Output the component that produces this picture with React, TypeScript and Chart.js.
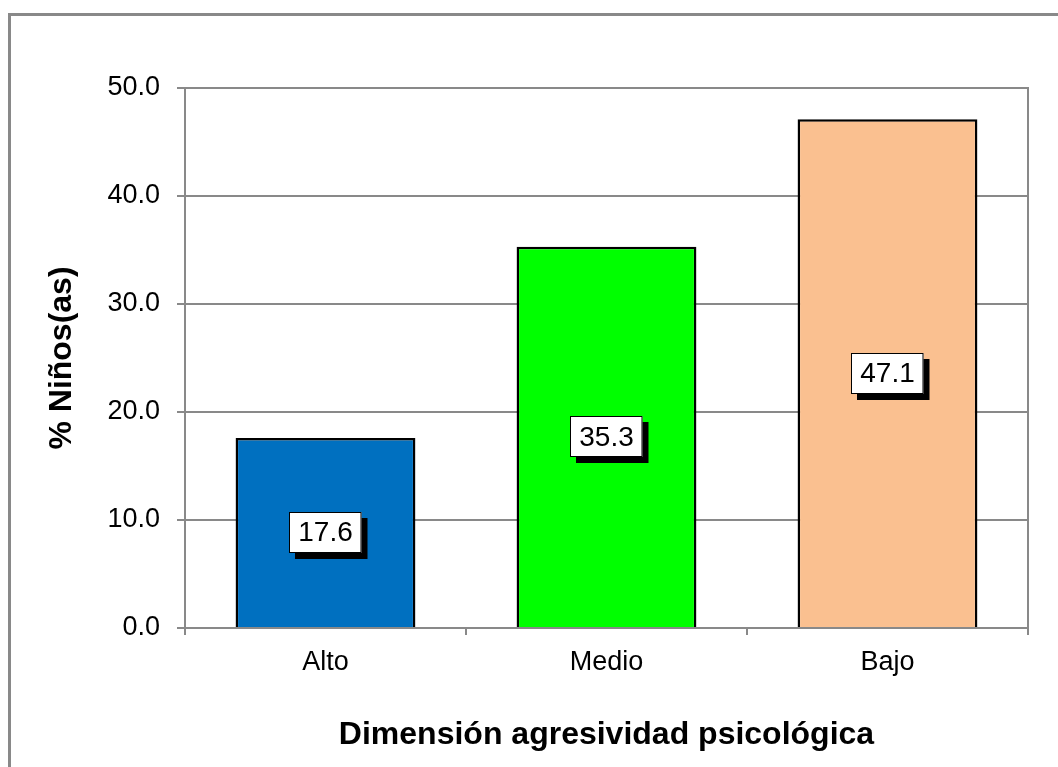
import React, { useEffect, useRef } from "react";
import { Chart, registerables } from "chart.js";

Chart.register(...registerables);

const categories = ["Alto", "Medio", "Bajo"];
const values = [17.6, 35.3, 47.1];
const barColors = ["#0070C0", "#00FF00", "#FAC090"];
const yTitle = "% Niños(as)";
const xTitle = "Dimensión agresividad psicológica";

const FONT = "'Liberation Sans', Arial, sans-serif";
const GRAY = "#898989";

const framePlugin = {
  id: "framePlugin",
  beforeDraw(chart: any) {
    const ctx = chart.ctx;
    ctx.save();
    ctx.fillStyle = "#ffffff";
    ctx.fillRect(0, 0, chart.width, chart.height);
    ctx.fillStyle = GRAY;
    ctx.fillRect(8, 13, 3, chart.height - 13);
    ctx.fillRect(8, 13, chart.width - 8, 3);
    ctx.restore();
  },
  afterDraw(chart: any) {
    const { ctx, chartArea } = chart;
    ctx.save();
    ctx.strokeStyle = GRAY;
    ctx.lineWidth = 2;
    ctx.beginPath();
    ctx.moveTo(chartArea.right, chartArea.top - 1);
    ctx.lineTo(chartArea.right, chartArea.bottom + 7);
    ctx.stroke();
    ctx.restore();
  },
};

const labelPlugin = {
  id: "labelPlugin",
  afterDatasetsDraw(chart: any) {
    const ctx = chart.ctx;
    const meta = chart.getDatasetMeta(0);
    ctx.save();
    ctx.font = `28px ${FONT}`;
    ctx.textAlign = "center";
    ctx.textBaseline = "middle";
    meta.data.forEach((bar: any, i: number) => {
      const text = values[i].toFixed(1);
      const cx = bar.x;
      const cy = (bar.y + bar.base) / 2;
      const w = ctx.measureText(text).width + 18;
      const h = 41;
      const x0 = Math.round(cx - w / 2);
      const y0 = Math.round(cy - h / 2);
      ctx.fillStyle = "#000";
      ctx.fillRect(x0 + 6, y0 + 6, w, h);
      ctx.fillStyle = "#fff";
      ctx.fillRect(x0, y0, w, h);
      ctx.strokeStyle = "#000";
      ctx.lineWidth = 1;
      ctx.strokeRect(x0 + 0.5, y0 + 0.5, w - 1, h - 1);
      ctx.fillStyle = "#000";
      ctx.fillText(text, cx, cy + 1);
    });
    ctx.restore();
  },
};

export default function App() {
  const ref = useRef<HTMLCanvasElement>(null);
  useEffect(() => {
    if (!ref.current) return;
    const chart = new Chart(ref.current, {
      type: "bar",
      data: {
        labels: categories,
        datasets: [
          {
            data: values,
            backgroundColor: barColors,
            borderColor: "#000",
            borderWidth: 2.5,
            barPercentage: 0.64,
            categoryPercentage: 1,
          },
        ],
      },
      options: {
        animation: false,
        responsive: false,
        devicePixelRatio: 1,
        layout: { padding: { top: 88, right: 30, left: 0, bottom: 0 } },
        plugins: {
          legend: { display: false },
          tooltip: { enabled: false },
        },
        scales: {
          x: {
            afterFit: (s: any) => {
              s.height = 139;
            },
            grid: {
              offset: true,
              drawOnChartArea: false,
              drawTicks: true,
              tickLength: 7,
              color: GRAY,
              lineWidth: 2,
            },
            border: { display: true, color: GRAY, width: 2 },
            ticks: {
              color: "#000",
              font: { family: FONT, size: 27 },
              padding: 11,
            },
            title: {
              display: true,
              text: xTitle,
              color: "#000",
              font: { family: FONT, size: 32, weight: "bold" },
              padding: { top: 0, bottom: 13 },
            },
          },
          y: {
            min: 0,
            max: 50,
            afterFit: (s: any) => {
              s.width = 185;
            },
            grid: {
              drawOnChartArea: true,
              drawTicks: true,
              tickLength: 8,
              color: GRAY,
              lineWidth: 2,
            },
            border: { display: true, color: GRAY, width: 2 },
            ticks: {
              stepSize: 10,
              color: "#000",
              font: { family: FONT, size: 27 },
              padding: 17,
              callback: (v: any) => Number(v).toFixed(1),
            },
            title: {
              display: true,
              text: yTitle,
              color: "#000",
              font: { family: FONT, size: 32, weight: "bold" },
              padding: { top: 43, bottom: 0 },
            },
          },
        },
      },
      plugins: [framePlugin, labelPlugin],
    });
    return () => chart.destroy();
  }, []);
  return (
    <div style={{ position: "fixed", left: 0, top: 0, width: 1058, height: 767 }}>
      <canvas ref={ref} width={1058} height={767} style={{ width: 1058, height: 767, display: "block" }} />
    </div>
  );
}
